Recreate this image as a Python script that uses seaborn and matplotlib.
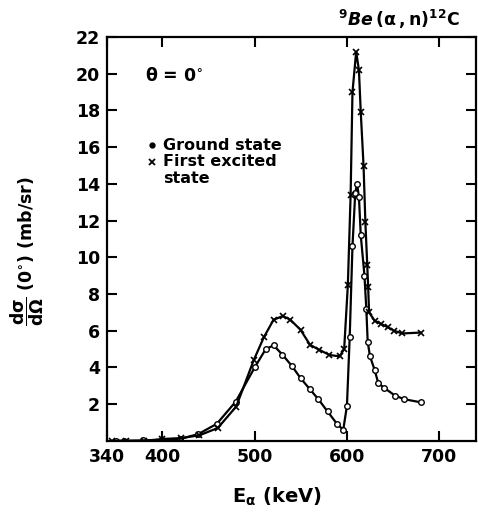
import matplotlib
matplotlib.use("Agg")
import matplotlib.pyplot as plt
import pandas as pd
import seaborn as sns

# alpha energy (keV) and cross section (mb/sr)
ground_e = [350, 358, 379, 400, 419, 439, 459, 479.5, 500, 512, 520.5, 530, 540,
            550, 560, 569, 579, 589, 596, 600, 603, 606, 609, 611, 613, 615,
            619, 621, 622.5, 625, 630, 634, 640, 652, 662, 680]
ground_xs = [0.0, 0.0, 0.02, 0.05, 0.1, 0.37, 0.93, 2.14, 4.0, 5.0, 5.2, 4.7, 4.1,
             3.4, 2.8, 2.27, 1.6, 0.94, 0.6, 1.9, 5.65, 10.6, 13.5, 14.0, 13.3, 11.2,
             9.0, 7.2, 5.4, 4.6, 3.87, 3.14, 2.9, 2.47, 2.27, 2.1]

excited_e = [345, 360, 380, 400, 420, 440, 460, 480, 499, 510, 520.5, 530.6, 538.6,
             549.7, 560, 570, 581, 592, 597, 601, 604, 606, 610, 613, 615, 618,
             620, 622, 623, 624, 630, 637, 644, 651, 660, 680]
excited_xs = [0.0, 0.0, 0.0, 0.1, 0.15, 0.3, 0.7, 1.87, 4.4, 5.65, 6.6, 6.8, 6.6,
              6.05, 5.23, 4.96, 4.68, 4.6, 5.0, 8.5, 13.4, 19.0, 21.2, 20.2, 17.9, 15.0,
              11.9, 9.6, 8.4, 7.0, 6.55, 6.37, 6.2, 6.0, 5.85, 5.9]

x_ticks = [340, 400, 500, 600, 700]
y_ticks = [2, 4, 6, 8, 10, 12, 14, 16, 18, 20, 22]

sns.set_style("ticks", {"axes.edgecolor": "black", "text.color": "black",
                        "axes.labelcolor": "black", "xtick.color": "black",
                        "ytick.color": "black"})
plt.rcParams["font.family"] = ["DejaVu Sans"]
plt.rcParams["font.weight"] = "bold"
plt.rcParams["mathtext.default"] = "bf"

ground = pd.DataFrame({"E": ground_e, "xs": ground_xs})
excited = pd.DataFrame({"E": excited_e, "xs": excited_xs})

fig = plt.figure(figsize=(4.78, 5.15), dpi=100)
ax = fig.add_axes([0.224, 0.144, 0.772, 0.784])

sns.lineplot(data=ground, x="E", y="xs", ax=ax, color="black", linewidth=1.6,
             marker="o", markersize=4, markerfacecolor="white",
             markeredgecolor="black", markeredgewidth=1.0)
sns.lineplot(data=excited, x="E", y="xs", ax=ax, color="black", linewidth=1.6,
             marker="x", markersize=4.5, markeredgecolor="black",
             markeredgewidth=1.2)

ax.set_xlim(340, 740)
ax.set_ylim(0, 22)
ax.set_xticks(x_ticks)
ax.set_yticks(y_ticks)
ax.tick_params(direction="in", length=7, width=1.5, top=True, right=True,
               labelsize=12.5, pad=5)
for lbl in ax.get_xticklabels() + ax.get_yticklabels():
    lbl.set_fontweight("bold")
for sp in ax.spines.values():
    sp.set_linewidth(1.6)

ax.set_xlabel(r"E$_{\alpha}$ (keV)", fontsize=14, fontweight="bold")
ax.xaxis.set_label_coords(0.46, -0.11)
ax.set_ylabel(r"$\dfrac{d\sigma}{d\Omega}$ (0$^{\circ}$) (mb/sr)", fontsize=12.5,
              fontweight="bold")
ax.yaxis.set_label_coords(-0.165, 0.47)

ax.text(381, 19.9, r"$\theta$ = 0$^{\circ}$", fontsize=12.5, fontweight="bold",
        va="center")
ax.plot([389], [16.1], marker="o", color="black", markersize=3.5)
ax.text(401, 16.1, "Ground state", fontsize=11.5, fontweight="bold", va="center")
ax.plot([389], [15.2], marker="x", color="black", markersize=4, markeredgewidth=1.3)
ax.text(401, 15.2, "First excited", fontsize=11.5, fontweight="bold", va="center")
ax.text(401, 14.3, "state", fontsize=11.5, fontweight="bold", va="center")

ax.text(0.955, 1.015, r"$^{9}$$\it{Be}$$\,(\alpha\,,n)^{12}$C", transform=ax.transAxes,
        ha="right", va="bottom", fontsize=12.5, fontweight="bold")

fig.savefig("out.png", dpi=100)
